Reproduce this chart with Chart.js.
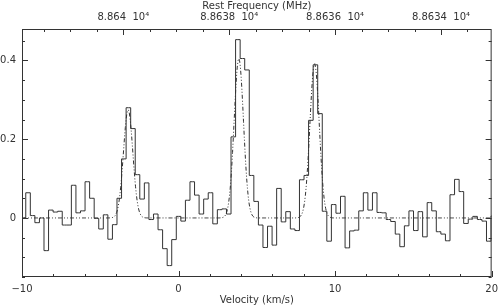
<!DOCTYPE html>
<html>
<head>
<meta charset="utf-8">
<script src="https://cdn.jsdelivr.net/npm/chart.js@4.4.1/dist/chart.umd.min.js"></script>
<style>
  html, body { margin: 0; padding: 0; background: #fff; }
</style>
</head>
<body>
<canvas id="spec" width="504" height="307"></canvas>
<script>
// channel grid of the spectrum (km/s)
const chanStart = -9.906;  // centre of the first, half hidden channel
const chanWidth = 0.2914;

// intensity per channel
const intensity = [
  0.000, 0.064, 0.006, -0.012, 0.000, -0.083, 0.020, 0.015, 0.017, -0.018,
  -0.018, 0.083, 0.013, 0.018, 0.092, 0.050, -0.001, -0.028, 0.008, -0.054,
  -0.017, 0.050, 0.150, 0.280, 0.227, 0.110, 0.048, 0.089, -0.004, 0.010,
  -0.030, -0.078, -0.121, -0.055, 0.004, -0.008, 0.045, 0.092, 0.058, 0.010,
  0.048, 0.064, -0.015, 0.021, 0.023, 0.010, 0.206, 0.453, 0.405, 0.376,
  0.108, 0.042, -0.018, -0.075, -0.021, -0.069, 0.075, -0.010, 0.016, -0.028,
  -0.032, 0.097, 0.108, 0.248, 0.389, 0.265, 0.017, -0.059, 0.034, 0.012,
  0.055, -0.076, -0.033, -0.031, 0.018, 0.064, 0.020, 0.064, 0.014, 0.013,
  -0.004, -0.009, -0.041, -0.073, -0.020, 0.018, -0.032, 0.016, -0.048, 0.039,
  0.018, -0.035, -0.041, -0.058, 0.059, 0.098, 0.067, -0.014, -0.003, 0.004,
  -0.004, -0.008, -0.059, 0.005
];

// gaussian fit of the three components
const fitCentre = [-3.22, 3.85, 8.69];
const fitPeak = [0.275, 0.405, 0.392];
const fitSigma = 0.30;

// labelled ticks
const velTicks = [-10, 0, 10, 20];
const freqTicks = [88640, 88638, 88636, 88634];
const yTicks = [0, 0.2, 0.4];

// velocity <-> rest frequency
const fRef = 88636;      // MHz at vRef
const vRef = 10;
const kmsPerMHz = 3.3823;
const freqAt = v => fRef - (v - vRef) / kmsPerMHz;

const ink = '#333';
const font = { family: 'DejaVu Sans', size: 10 };

const specPts = intensity.map((t, i) => ({ x: chanStart + i * chanWidth, y: t }));

const fitPts = [];
for (let i = 0; i <= 600; i++) {
  const v = -10 + i * 0.05;
  let t = 0;
  fitCentre.forEach((c, j) => {
    t += fitPeak[j] * Math.exp(-0.5 * ((v - c) / fitSigma) ** 2);
  });
  fitPts.push({ x: v, y: t });
}

// frame with inward ticks on all four sides
const frame = {
  id: 'frame',
  afterDatasetsDraw(chart) {
    const { ctx, chartArea: a, scales } = chart;
    ctx.save();
    ctx.strokeStyle = ink;
    ctx.lineWidth = 1;
    ctx.strokeRect(a.left + 0.5, a.top + 0.5, a.right - a.left - 1, a.bottom - a.top - 1);
    ctx.beginPath();
    for (let i = -5; i <= 10; i++) {
      const x = Math.round(scales.x.getPixelForValue(i * 2)) + 0.5;
      const len = i % 5 === 0 ? 6 : 3;
      ctx.moveTo(x, a.bottom);
      ctx.lineTo(x, a.bottom - len);
    }
    for (let i = 177267; i <= 177283; i++) {
      const x = Math.round(scales.x2.getPixelForValue(i / 2)) + 0.5;
      const len = i % 4 === 0 ? 6 : 3;
      ctx.moveTo(x, a.top);
      ctx.lineTo(x, a.top + len);
    }
    for (let i = -3; i <= 9; i++) {
      const y = Math.round(scales.y.getPixelForValue(i * 0.05)) + 0.5;
      const len = i % 4 === 0 ? 6 : 3;
      ctx.moveTo(a.left, y);
      ctx.lineTo(a.left + len, y);
      ctx.moveTo(a.right, y);
      ctx.lineTo(a.right - len, y);
    }
    ctx.stroke();
    ctx.restore();
  }
};

new Chart(document.getElementById('spec'), {
  type: 'line',
  data: {
    datasets: [
      {
        label: 'spectrum',
        data: specPts,
        stepped: 'middle',
        borderColor: ink,
        borderWidth: 1,
        pointRadius: 0,
        fill: false
      },
      {
        label: 'fit',
        data: fitPts,
        borderColor: ink,
        borderWidth: 1,
        borderDash: [4, 2, 1, 2, 1, 2],
        pointRadius: 0,
        tension: 0,
        fill: false
      }
    ]
  },
  options: {
    responsive: false,
    devicePixelRatio: 1,
    animation: false,
    layout: { padding: { left: 0, right: 7, top: 0, bottom: 0 } },
    plugins: { legend: { display: false }, tooltip: { enabled: false } },
    scales: {
      x: {
        type: 'linear',
        position: 'bottom',
        min: -10,
        max: 20,
        afterBuildTicks: s => { s.ticks = velTicks.map(v => ({ value: v })); },
        afterFit: s => { s.height = 30; },
        grid: { display: false, drawTicks: false },
        border: { display: false },
        ticks: {
          padding: 6, font, color: ink, maxRotation: 0, autoSkip: false,
          callback: v => (v < 0 ? '\u2212' + Math.abs(v) : String(v))
        },
        title: { display: true, text: 'Velocity (km/s)', font, color: ink, padding: { top: 0, bottom: 1 } }
      },
      x2: {
        type: 'linear',
        position: 'top',
        min: freqAt(20),
        max: freqAt(-10),
        reverse: true,
        afterBuildTicks: s => { s.ticks = freqTicks.map(v => ({ value: v })); },
        afterFit: s => { s.height = 29; },
        grid: { display: false, drawTicks: false },
        border: { display: false },
        ticks: {
          padding: 6, font, color: ink, maxRotation: 0, autoSkip: false,
          callback: v => +(v / 1e4).toFixed(5) + '  10\u2074'
        },
        title: { display: true, text: 'Rest Frequency (MHz)', font, color: ink, padding: { top: 0, bottom: 0 } }
      },
      y: {
        type: 'linear',
        position: 'left',
        min: -0.15,
        max: 0.48,
        afterBuildTicks: s => { s.ticks = yTicks.map(v => ({ value: v })); },
        afterFit: s => { s.width = 22; },
        grid: { display: false, drawTicks: false },
        border: { display: false },
        ticks: {
          padding: 6, font, color: ink,
          callback: v => (v === 0 ? '0' : v.toFixed(1))
        }
      }
    }
  },
  plugins: [frame]
});
</script>
</body>
</html>
